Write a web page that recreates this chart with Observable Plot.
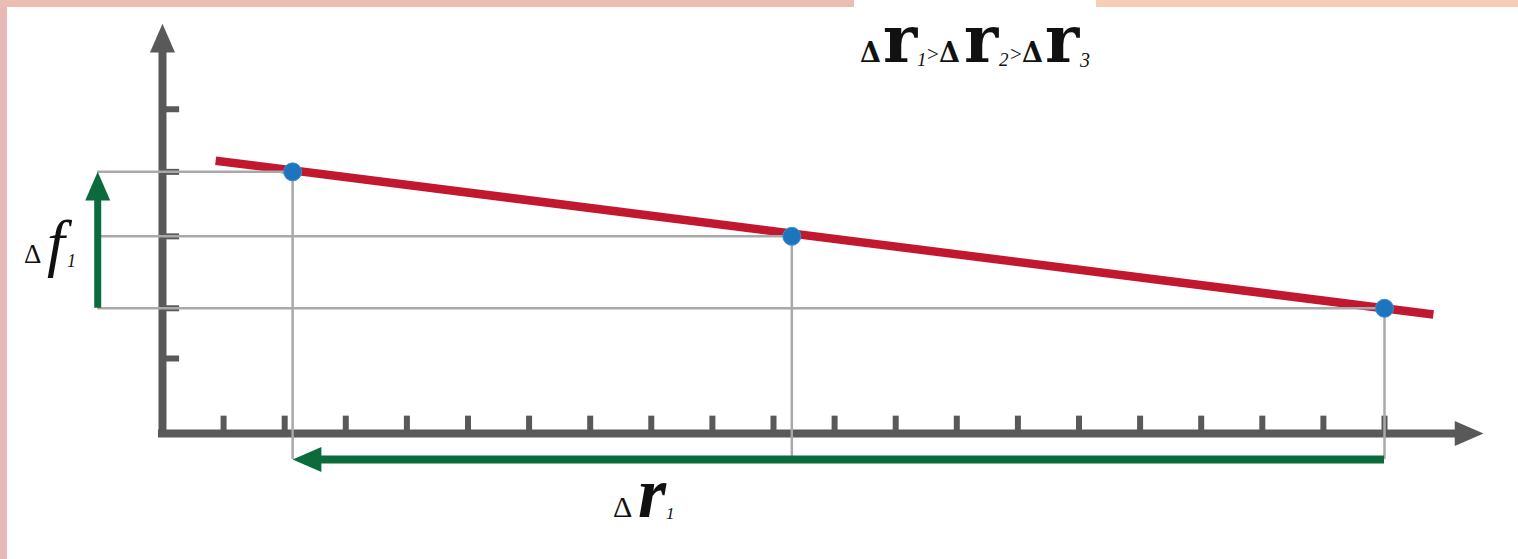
<!DOCTYPE html>
<html>
<head>
<meta charset="utf-8">
<script src="https://cdn.jsdelivr.net/npm/d3@7"></script>
<script src="https://cdn.jsdelivr.net/npm/@observablehq/plot@0.6"></script>
<style>
  html, body { margin: 0; padding: 0; background: #ffffff; }
  #wrap { position: relative; width: 1518px; height: 559px; overflow: hidden; background: #ffffff; }
  #wrap svg { position: absolute; left: 0; top: 0; }
  .band { position: absolute; z-index: 2; }
</style>
</head>
<body>
<div id="wrap">
  <div class="band" style="left:0;top:0;width:7px;height:559px;background:#e8bab5"></div>
  <div class="band" style="left:0;top:0;width:854px;height:7px;background:#ecbdb3"></div>
  <div class="band" style="left:1096px;top:0;width:422px;height:7px;background:#f6cdb5"></div>
</div>
<script>
// ---- data (x in tick units, y in arbitrary units) ----
const xTicks = [1, 2, 3, 4, 5, 6, 7, 8, 9, 10, 11, 12, 13, 14, 15, 16, 17, 18, 19, 20];
const yTicks = [1.21, 2.02, 3.18, 4.22, 5.23];
const pointX = [2.13, 10.3, 20.0];
const pointY = [4.22, 3.18, 2.02];
const fitX = [0.87, 20.8];
const fitY = [4.40, 1.92];
const axisEndX = 21.62;
const axisEndY = 6.61;
const guideX = -1.06;   // position of the Δf arrow
const guideY = -0.42;   // position of the Δr arrow
const headLen = 0.42;

const points = pointX.map((x, i) => ({x, y: pointY[i]}));
const fitLine = fitX.map((x, i) => ({x, y: fitY[i]}));

const axisColor = "#595959";
const gridColor = "#a9a9a9";
const green = "#0c6b3c";
const red = "#c2182f";
const blue = "#1d76bd";

const arrowHead = {
  draw(context, size) {
    const r = Math.sqrt(size / Math.PI);
    context.moveTo(0, 0);
    context.lineTo(-r, 2.3 * r);
    context.lineTo(r, 2.3 * r);
    context.closePath();
  }
};

const heads = [
  {x: 0, y: axisEndY, rot: 0, c: axisColor},
  {x: axisEndX, y: 0, rot: 90, c: axisColor},
  {x: guideX, y: pointY[0], rot: 0, c: green},
  {x: pointX[0], y: guideY, rot: -90, c: green}
];

const plot = Plot.plot({
  width: 1518,
  height: 559,
  margin: 0,
  x: {domain: [-2.651, 22.193], axis: null},
  y: {domain: [-2.032, 6.984], axis: null},
  marks: [
    Plot.ruleX([0], {y1: 0, y2: axisEndY - headLen, stroke: axisColor, strokeWidth: 8, strokeLinecap: "square"}),
    Plot.ruleY([0], {x1: 0, x2: axisEndX - headLen, stroke: axisColor, strokeWidth: 8, strokeLinecap: "square"}),
    Plot.ruleX(xTicks, {x: d => d, y1: 0, y2: 0.28, stroke: axisColor, strokeWidth: 6}),
    Plot.ruleY(yTicks, {y: d => d, x1: 0, x2: 0.28, stroke: axisColor, strokeWidth: 6}),
    Plot.line(fitLine, {x: "x", y: "y", stroke: red, strokeWidth: 8.5, strokeLinecap: "butt"}),
    Plot.ruleY(points, {y: "y", x1: guideX, x2: "x", stroke: gridColor, strokeWidth: 2.5}),
    Plot.ruleX(points, {x: "x", y1: "y", y2: guideY, stroke: gridColor, strokeWidth: 2.5}),
    Plot.ruleX([guideX], {x: d => d, y1: pointY[2], y2: pointY[0] - headLen, stroke: green, strokeWidth: 7}),
    Plot.ruleY([guideY], {y: d => d, x1: pointX[2], x2: pointX[0] + headLen, stroke: green, strokeWidth: 8}),
    Plot.dot(heads, {x: "x", y: "y", r: 12.5, symbol: arrowHead, rotate: "rot", fill: "c", stroke: "none"}),
    Plot.dot(points, {x: "x", y: "y", r: 9, fill: blue, stroke: "#3d8fd0", strokeWidth: 1})
  ]
});

document.getElementById("wrap").appendChild(plot);

const svg = d3.select(plot);

function addText(family, parts) {
  const t = svg.append("text")
    .attr("text-anchor", "start")
    .style("text-anchor", "start")
    .style("font-family", family)
    .style("fill", "#111");
  parts.forEach(p => {
    t.append("tspan")
      .attr("x", p.x).attr("y", p.y)
      .style("font-family", p.family || family)
      .style("font-size", p.size + "px")
      .style("font-weight", p.bold ? "bold" : "normal")
      .style("font-style", p.italic ? "italic" : "normal")
      .text(p.t);
  });
}

const dv = "'DejaVu Serif', serif";
const lib = "'Liberation Serif', serif";

// title  Δr1>Δr2>Δr3
addText(dv, [
  {t: "Δ", x: 860, y: 62, size: 27, bold: true},
  {t: "r", x: 883, y: 62, size: 65, bold: true},
  {t: "1", x: 917, y: 66, size: 19, italic: true, family: lib},
  {t: ">", x: 927, y: 61, size: 21, family: lib},
  {t: "Δ", x: 939, y: 62, size: 27, bold: true},
  {t: "r", x: 964, y: 62, size: 65, bold: true},
  {t: "2", x: 999, y: 66, size: 19, italic: true, family: lib},
  {t: ">", x: 1010, y: 61, size: 21, family: lib},
  {t: "Δ", x: 1022, y: 62, size: 27, bold: true},
  {t: "r", x: 1045, y: 62, size: 65, bold: true},
  {t: "3", x: 1080, y: 67, size: 20, italic: true, family: lib}
]);

// Δf1
addText(lib, [
  {t: "Δ", x: 24, y: 263, size: 27},
  {t: "f", x: 47, y: 264, size: 64, italic: true},
  {t: "1", x: 67, y: 267, size: 18, italic: true}
]);

// Δr1
addText(lib, [
  {t: "Δ", x: 613, y: 517, size: 30},
  {t: "r", x: 638, y: 517, size: 72, bold: true, italic: true},
  {t: "1", x: 666, y: 519, size: 17, italic: true}
]);
</script>
</body>
</html>
